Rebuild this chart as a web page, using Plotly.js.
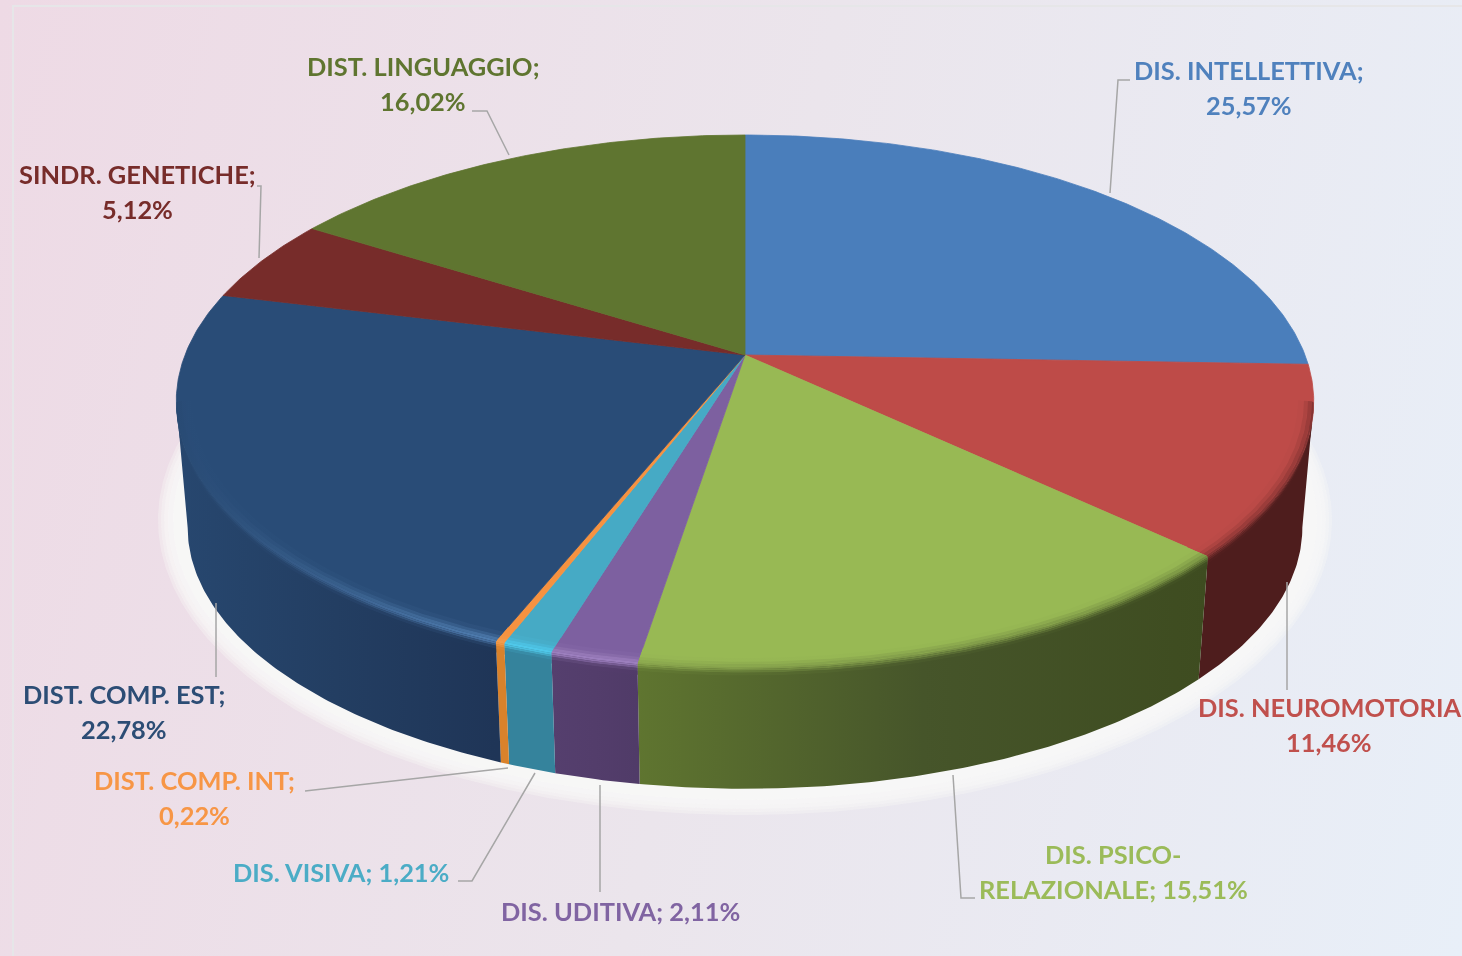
<!DOCTYPE html>
<html>
<head>
<meta charset="utf-8">
<script src="https://cdn.plot.ly/plotly-3.0.1.min.js"></script>
<style>
html, body { margin: 0; padding: 0; width: 1462px; height: 956px; overflow: hidden;
  background: linear-gradient(103deg, #eedae5 0%, #ebe5ec 50%, #e8eff8 100%); }
#chart { width: 1462px; height: 956px; filter: blur(0.5px); }
</style>
</head>
<body>
<div id="chart"></div>
<script>
// clockwise from 12 o'clock
var categories = ["DIS. INTELLETTIVA", "DIS. NEUROMOTORIA", "DIS. PSICO-RELAZIONALE", "DIS. UDITIVA", "DIS. VISIVA",
  "DIST. COMP. INT", "DIST. COMP. EST", "SINDR. GENETICHE", "DIST. LINGUAGGIO"];
var values = [25.57, 11.46, 15.51, 2.11, 1.21, 0.22, 22.78, 5.12, 16.02];
var labelLines = [
  ["DIS. INTELLETTIVA;", "25,57%"],
  ["DIS. NEUROMOTORIA", "11,46%"],
  ["DIS. PSICO-", "RELAZIONALE; 15,51%"],
  ["DIS. UDITIVA; 2,11%"],
  ["DIS. VISIVA; 1,21%"],
  ["DIST. COMP. INT;", "0,22%"],
  ["DIST. COMP. EST;", "22,78%"],
  ["SINDR. GENETICHE;", "5,12%"],
  ["DIST. LINGUAGGIO;", "16,02%"]
];

// styles
var topColors = ["#4a7ebb", "#be4b48", "#98b954", "#7d60a0", "#46aac5", "#f69240", "#294c77", "#772c2a", "#5f7530"];
var sideColors = [
  ["#2b4a70", "#2b4a70", "#2b4a70"],
  ["#4e1d1d", "#4e1d1d", "#4e1d1d"],
  ["#5f7530", "#46552a", "#3e4c20"],
  ["#553f6e", "#533d6b", "#503b68"],
  ["#35839c", "#35839c", "#35839c"],
  ["#d9822b", "#d9822b", "#d9822b"],
  ["#27476f", "#233e62", "#1f3557"],
  ["#4e1d1d", "#4e1d1d", "#4e1d1d"],
  ["#3e4c20", "#3e4c20", "#3e4c20"]
];
var labelColors = ["#4f81bd", "#c0504d", "#9bbb59", "#8064a2", "#4bacc6", "#f79646", "#2c4d75", "#772c2a", "#5f7530"];
var rimLights = [
  ["#4a7ebb", 0, 0], ["#be4b48", 0, 0], ["#a4c262", 0.3, 0.1], ["#a284c4", 0.9, 0.9], ["#4fc8ea", 1, 1],
  ["#f7a050", 0.8, 0.8], ["#4f7db0", 0, 1], ["#772c2a", 0, 0], ["#5f7530", 0, 0]
];
var labelPos = [[1249, 70, 105], [1329, 707, 742], [1113, 854, 889], [620, 911], [341, 872],
  [194, 780, 815], [124, 694, 729], [137, 174, 209], [423, 66, 101]];
var leaders = [
  "M1110 193 L1118 80 L1130 80",
  "M1287 582 L1287 690",
  "M953 775 L961 898 L975 898",
  "M600 785 L600 892",
  "M535 773 L472 881 L458 881",
  "M508 768 L305 791",
  "M216 603 L216 677",
  "M259 258 L261 186 L257 186",
  "M509 155 L487 111 L472 111"
];

// pie geometry: circle seen in perspective
var cx = 745, cy = 355, a = 560, b = 258.4, k = 0.1745;
var depth = 127, shrink = 0.02;
// the wall only shows between the two points where the outline turns back
var frontStart = Math.acos(-k), frontEnd = 2 * Math.PI - frontStart;

function proj(theta, r, d) {
  var u = r * Math.sin(theta), v = r * Math.cos(theta);
  var w = 1 + k * v;
  var s = 1 - shrink * d / depth;
  return [cx + s * a * u / w, cy + d - s * b * v / w];
}
function hex2rgb(h) {
  return [parseInt(h.slice(1, 3), 16), parseInt(h.slice(3, 5), 16), parseInt(h.slice(5, 7), 16)];
}
function mix(c1, c2, f) {
  var p = hex2rgb(c1), q = hex2rgb(c2), out = [];
  for (var i = 0; i < 3; i++) out.push(Math.round(p[i] + (q[i] - p[i]) * f));
  return "#" + out.map(function (n) { return (n < 16 ? "0" : "") + n.toString(16); }).join("");
}
// t in pixels around the top edge: below 0 on the top face, above 0 on the side
function rimPoint(theta, t) {
  return t < 0 ? proj(theta, 1 + t / 300, 0) : proj(theta, 1, t);
}
function arc(t0, t1) {
  var n = Math.max(2, Math.ceil((t1 - t0) / 0.01)), out = [];
  for (var i = 0; i <= n; i++) out.push(t0 + (t1 - t0) * i / n);
  return out;
}
function polyTrace(pts, color, lineWidth, gradient) {
  var tr = {
    type: "scatter", mode: "lines", x: pts.map(function (p) { return p[0]; }), y: pts.map(function (p) { return p[1]; }),
    fill: "toself", fillcolor: color, line: {color: color, width: lineWidth}, hoverinfo: "skip", showlegend: false
  };
  if (gradient) tr.fillgradient = gradient;
  return tr;
}
function gradient3(xs, stops) {
  var lo = Math.min.apply(null, xs), hi = Math.max.apply(null, xs);
  return {type: "horizontal", start: lo, stop: hi, colorscale: [[0, stops[0]], [0.5, stops[1]], [1, stops[2]]]};
}

var total = values.reduce(function (s, v) { return s + v; }, 0);
var starts = [], acc = 0;
values.forEach(function (v) { starts.push(acc / total * 2 * Math.PI); acc += v; });
function sliceEnd(i) { return starts[i] + values[i] / total * 2 * Math.PI; }

var traces = [];

// soft white shadow under the pie
[[587, 295, 0.35], [584, 292, 0.35], [581, 289, 0.4], [577, 285, 0.5], [572, 280, 0.6]].forEach(function (e) {
  var pts = arc(0, 2 * Math.PI).map(function (t) { return [cx + e[0] * Math.sin(t), 520 + e[1] * Math.cos(t)]; });
  traces.push(polyTrace(pts, "rgba(248,248,247," + e[2] + ")", 0));
});

// side walls
values.forEach(function (v, i) {
  var t0 = Math.max(starts[i], frontStart), t1 = Math.min(sliceEnd(i), frontEnd);
  if (t1 <= t0) return;
  var ts = arc(t0, t1);
  var top = ts.map(function (t) { return proj(t, 1, 0); });
  var bot = ts.map(function (t) { return proj(t, 1, depth); }).reverse();
  var pts = top.concat(bot);
  var xs = ts.map(function (t) { return proj(t, 1, 0)[0]; });
  pts.push(pts[0]);
  traces.push(polyTrace(pts, sideColors[i][0], 0, gradient3(xs, sideColors[i])));
});

// top faces
values.forEach(function (v, i) {
  var pts = [[cx, cy]].concat(arc(starts[i], sliceEnd(i)).map(function (t) { return proj(t, 1, 0); }));
  pts.push([cx, cy]);
  traces.push(polyTrace(pts, topColors[i], 0.8));
});

// soft bevel along the visible front edge
var bands = [-12, -8, -5, -3, -1, 1, 3, 5, 8, 12];
function smooth(t) {
  var f = Math.max(0, Math.min(1, (t + 8) / 16));
  return f * f * (3 - 2 * f);
}
values.forEach(function (v, i) {
  var t0 = Math.max(starts[i], frontStart), t1 = Math.min(sliceEnd(i), frontEnd);
  if (t1 <= t0) return;
  var ts = arc(t0, t1);
  var xs = ts.map(function (t) { return proj(t, 1, 0)[0]; });
  for (var j = 0; j < bands.length - 1; j++) {
    var mid = (bands[j] + bands[j + 1]) / 2;
    var glow = Math.exp(-Math.pow(mid / 4.5, 2));
    var stops = [0, 1, 2].map(function (n) {
      var base = mix(topColors[i], sideColors[i][n], smooth(mid));
      var strength = rimLights[i][1] + (rimLights[i][2] - rimLights[i][1]) * n / 2;
      return mix(base, rimLights[i][0], glow * strength);
    });
    var inner = ts.map(function (t) { return rimPoint(t, bands[j]); });
    var outer = ts.map(function (t) { return rimPoint(t, bands[j + 1]); }).reverse();
    var pts = inner.concat(outer);
    pts.push(pts[0]);
    traces.push(polyTrace(pts, stops[1], 0, gradient3(xs, stops)));
  }
});

var annotations = [];
labelLines.forEach(function (lines, i) {
  lines.forEach(function (txt, j) {
    annotations.push({
      x: labelPos[i][0], y: labelPos[i][j + 1], xref: "x", yref: "y", text: txt, showarrow: false,
      xanchor: "center", yanchor: "middle",
      font: {family: "Lato, sans-serif", size: 25.4, weight: 700, color: labelColors[i]}
    });
  });
});

var shapes = leaders.map(function (p) {
  return {type: "path", path: p, xref: "x", yref: "y", line: {color: "#a6a6a6", width: 1.5}};
});
// thin pale frame of the chart area
shapes.push({type: "path", path: "M13 956 L13 6 L1462 6", xref: "x", yref: "y", line: {color: "#e6e6e8", width: 2}});

var layout = {
  width: 1462, height: 956, margin: {l: 0, r: 0, t: 0, b: 0},
  paper_bgcolor: "rgba(0,0,0,0)", plot_bgcolor: "rgba(0,0,0,0)", showlegend: false,
  xaxis: {range: [0, 1462], visible: false, fixedrange: true},
  yaxis: {range: [956, 0], visible: false, fixedrange: true},
  annotations: annotations, shapes: shapes, hovermode: false
};

Plotly.newPlot("chart", traces, layout, {displayModeBar: false, staticPlot: true});
</script>
</body>
</html>
